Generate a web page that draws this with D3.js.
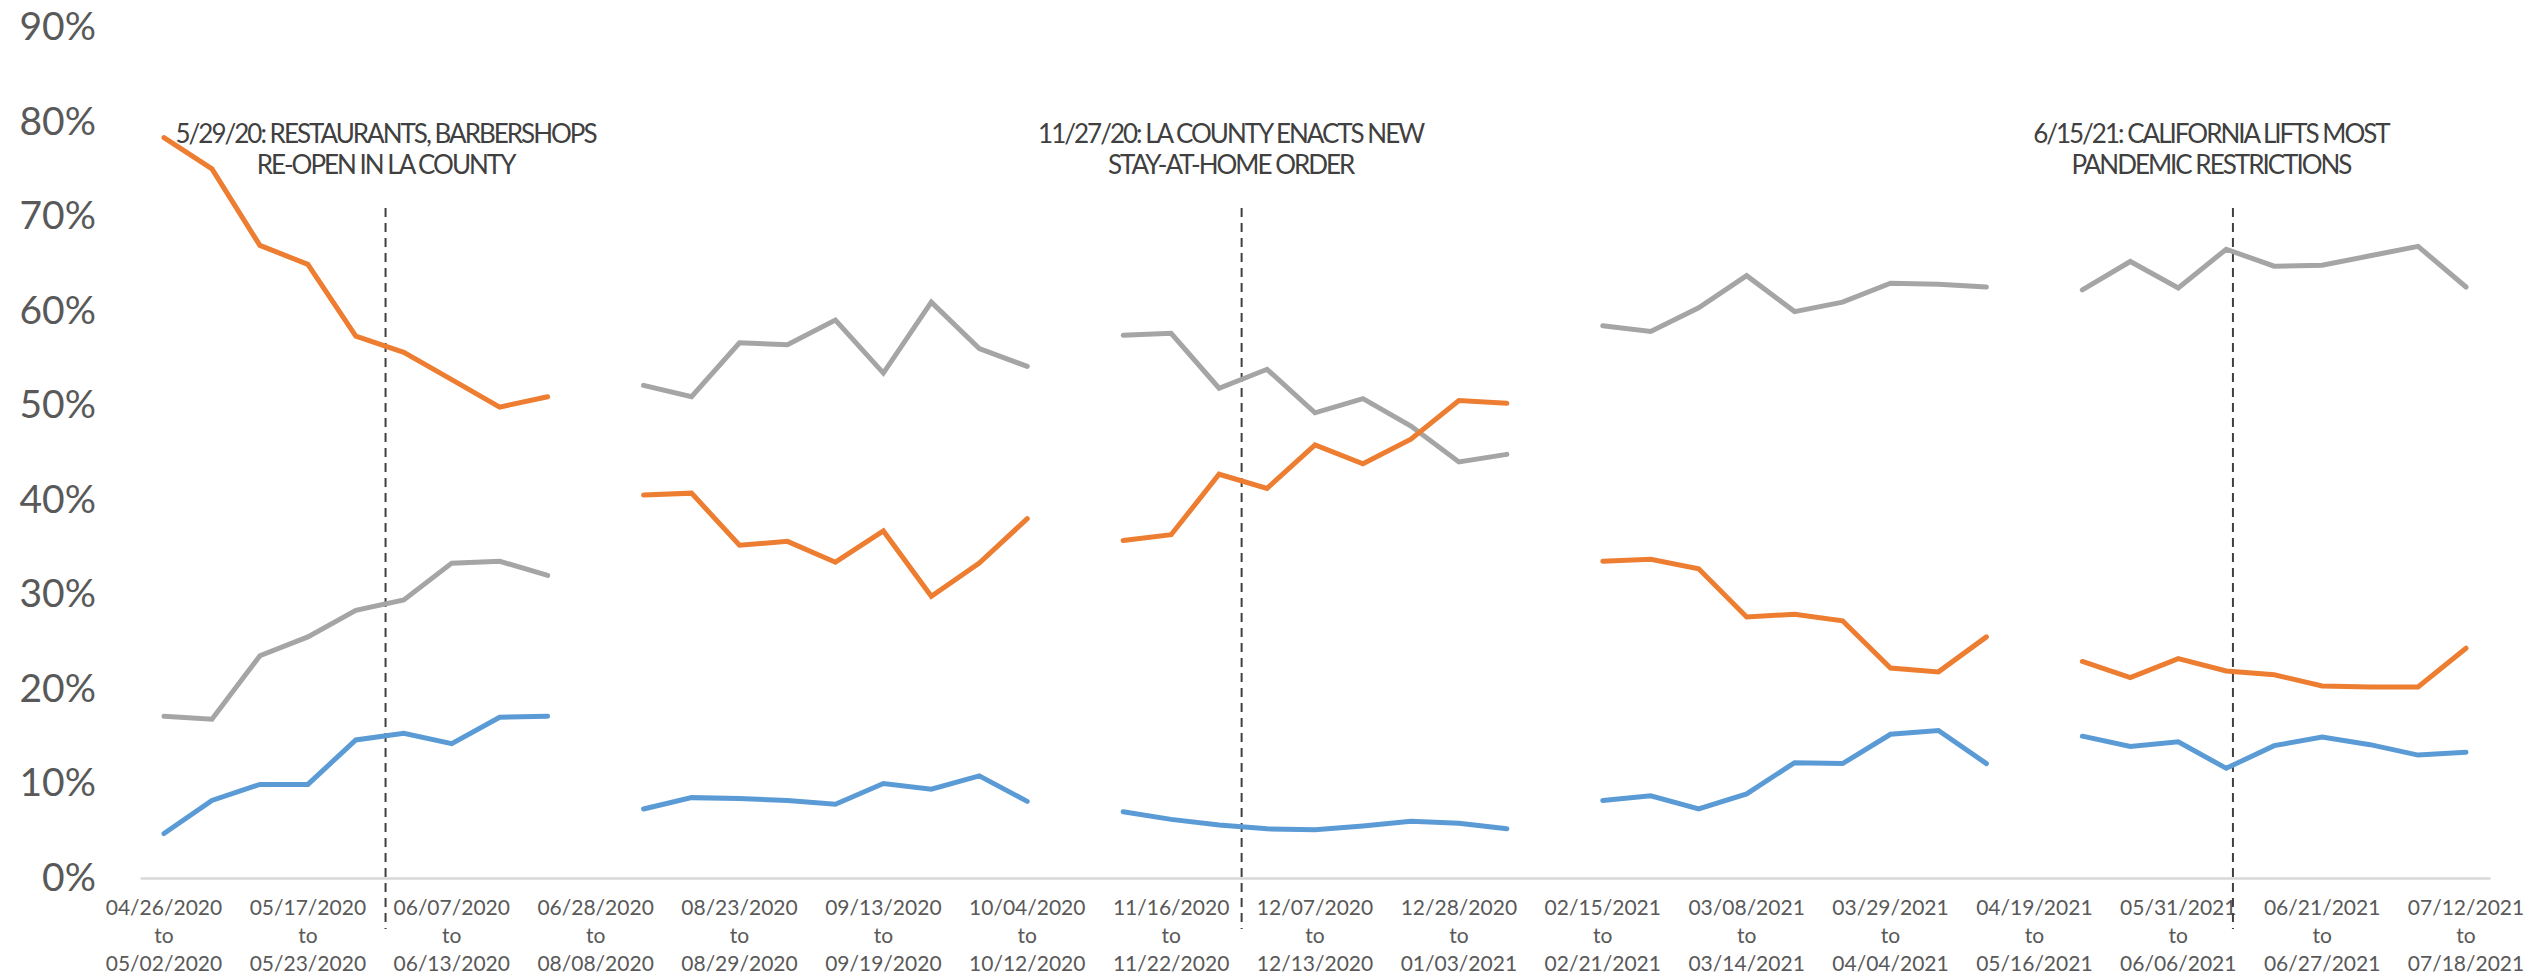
<!DOCTYPE html>
<html lang="en">
<head>
    <meta charset="UTF-8">
    <title>Weekly Shares</title>

    <script src="https://d3js.org/d3.v7.min.js"></script>

    <style>
        body {
            margin: 0;
            background: #ffffff;
        }

        svg {
            display: block;
            font-family: Lato, "Open Sans", sans-serif;
        }

    </style>

    <script>

        // week ranges (start / end); blank weeks between survey waves are single gap categories
        const WEEK_START = [
            "04/26/2020", "05/03/2020", "05/10/2020", "05/17/2020", "05/24/2020", "05/31/2020", "06/07/2020", "06/14/2020", "06/21/2020",
            "06/28/2020",
            "08/09/2020", "08/16/2020", "08/23/2020", "08/30/2020", "09/06/2020", "09/13/2020", "09/20/2020", "09/27/2020", "10/04/2020",
            "10/13/2020",
            "11/09/2020", "11/16/2020", "11/23/2020", "11/30/2020", "12/07/2020", "12/14/2020", "12/21/2020", "12/28/2020", "01/04/2021",
            "01/11/2021",
            "02/15/2021", "02/22/2021", "03/01/2021", "03/08/2021", "03/15/2021", "03/22/2021", "03/29/2021", "04/05/2021", "04/12/2021",
            "04/19/2021",
            "05/17/2021", "05/24/2021", "05/31/2021", "06/07/2021", "06/14/2021", "06/21/2021", "06/28/2021", "07/05/2021", "07/12/2021"
        ];

        const WEEK_END = [
            "05/02/2020", "05/09/2020", "05/16/2020", "05/23/2020", "05/30/2020", "06/06/2020", "06/13/2020", "06/20/2020", "06/27/2020",
            "08/08/2020",
            "08/15/2020", "08/22/2020", "08/29/2020", "09/05/2020", "09/12/2020", "09/19/2020", "09/26/2020", "10/03/2020", "10/12/2020",
            "11/08/2020",
            "11/15/2020", "11/22/2020", "11/29/2020", "12/06/2020", "12/13/2020", "12/20/2020", "12/27/2020", "01/03/2021", "01/10/2021",
            "02/14/2021",
            "02/21/2021", "02/28/2021", "03/07/2021", "03/14/2021", "03/21/2021", "03/28/2021", "04/04/2021", "04/11/2021", "04/18/2021",
            "05/16/2021",
            "05/23/2021", "05/30/2021", "06/06/2021", "06/13/2021", "06/20/2021", "06/27/2021", "07/04/2021", "07/11/2021", "07/18/2021"
        ];

        // percent values, null = no survey that week
        const ORANGE = [
            78.3, 75.0, 66.9, 64.9, 57.3, 55.6, 52.7, 49.8, 50.9,
            null,
            40.5, 40.7, 35.2, 35.6, 33.4, 36.7, 29.8, 33.3, 38.0,
            null,
            35.7, 36.3, 42.7, 41.2, 45.8, 43.8, 46.4, 50.5, 50.2,
            null,
            33.5, 33.7, 32.7, 27.6, 27.9, 27.2, 22.2, 21.8, 25.5,
            null,
            22.9, 21.2, 23.2, 21.9, 21.5, 20.3, 20.2, 20.2, 24.3
        ];

        const GRAY = [
            17.1, 16.8, 23.5, 25.5, 28.3, 29.4, 33.3, 33.5, 32.0,
            null,
            52.1, 50.9, 56.6, 56.4, 59.0, 53.4, 60.9, 56.0, 54.1,
            null,
            57.4, 57.6, 51.8, 53.8, 49.2, 50.7, 47.8, 44.0, 44.8,
            null,
            58.4, 57.8, 60.3, 63.7, 59.9, 60.9, 62.9, 62.8, 62.5,
            null,
            62.2, 65.2, 62.4, 66.5, 64.7, 64.8, 65.8, 66.8, 62.5
        ];

        const BLUE = [
            4.7, 8.2, 9.9, 9.9, 14.6, 15.3, 14.2, 17.0, 17.1,
            null,
            7.3, 8.5, 8.4, 8.2, 7.8, 10.0, 9.4, 10.8, 8.1,
            null,
            7.0, 6.2, 5.6, 5.2, 5.1, 5.5, 6.0, 5.8, 5.2,
            null,
            8.2, 8.7, 7.3, 8.9, 12.2, 12.1, 15.2, 15.6, 12.1,
            null,
            15.0, 13.9, 14.4, 11.6, 14.0, 14.9, 14.1, 13.0, 13.3
        ];

        const Y_TICKS = [0, 10, 20, 30, 40, 50, 60, 70, 80, 90];

        // events: position in week index units, two label lines
        const EVENT_POS = [4.62, 22.47, 43.14];
        const EVENT_LINE1 = ["5/29/20: RESTAURANTS, BARBERSHOPS", "11/27/20: LA COUNTY ENACTS NEW", "6/15/21: CALIFORNIA LIFTS MOST"];
        const EVENT_LINE2 = ["RE-OPEN IN LA COUNTY", "STAY-AT-HOME ORDER", "PANDEMIC RESTRICTIONS"];

        document.addEventListener("DOMContentLoaded", () => makeGraph());

        function makeGraph() {

            const width = 2525;
            const height = 979;

            const plot = {left: 140, right: 2490, top: 27, bottom: 878};

            // labels sit a little left of their marker line in the original
            const labelShift = [0, -11, -22];

            const svg = d3.select("svg")
                .attr("width", width)
                .attr("height", height);

            const idx = d3.range(WEEK_START.length);

            const x = d3.scaleBand().domain(idx).range([plot.left, plot.right]);
            const cx = (i) => x(i) + x.bandwidth() / 2;
            const xPos = d3.scaleLinear()
                .domain([0, idx.length - 1])
                .range([cx(0), cx(idx.length - 1)]);

            const y = d3.scaleLinear().domain([0, 90]).range([plot.bottom, plot.top]);

            // y axis labels
            const yAxis = svg.append("g")
                .attr("transform", "translate(96,0)")
                .call(d3.axisLeft(y).tickValues(Y_TICKS).tickSize(0).tickPadding(0)
                    .tickFormat((d) => d + "%"));
            yAxis.select(".domain").remove();
            yAxis.selectAll("text")
                .attr("font-family", "Lato")
                .attr("font-size", 39)
                .attr("fill", "#595959");

            // x axis
            const xAxis = svg.append("g")
                .attr("transform", "translate(0," + plot.bottom + ")")
                .call(d3.axisBottom(x).tickValues(idx.filter((i) => i % 3 === 0))
                    .tickSize(0).tickFormat(""));
            xAxis.select(".domain")
                .attr("stroke", "#d9d9d9")
                .attr("stroke-width", 2.5);
            xAxis.selectAll(".tick text").remove();

            const tickText = xAxis.selectAll(".tick")
                .append("text")
                .attr("font-family", "Lato")
                .attr("font-size", 21)
                .attr("fill", "#595959")
                .attr("text-anchor", "middle");

            tickText.each(function(i) {
                const lines = [WEEK_START[i], "to", WEEK_END[i]];
                d3.select(this).selectAll("tspan")
                    .data(lines)
                    .join("tspan")
                    .attr("x", 0)
                    .attr("y", (d, k) => 30 + k * 28)
                    .attr("dy", "0.35em")
                    .text((d) => d);
            });

            // event markers
            const ev = svg.append("g");
            EVENT_POS.forEach(function(p, k) {
                ev.append("line")
                    .attr("x1", xPos(p))
                    .attr("x2", xPos(p))
                    .attr("y1", 208)
                    .attr("y2", 929)
                    .attr("stroke", "#404040")
                    .attr("stroke-width", 2)
                    .attr("stroke-dasharray", "9,6");

                const lx = xPos(p) + labelShift[k];
                const t = ev.append("text")
                    .attr("text-anchor", "middle")
                    .attr("font-family", "Lato")
                    .attr("font-size", 26)
                    .attr("letter-spacing", "-2px")
                    .attr("fill", "#404040");
                t.append("tspan").attr("x", lx).attr("y", 143).text(EVENT_LINE1[k]);
                t.append("tspan").attr("x", lx).attr("y", 174).text(EVENT_LINE2[k]);
            });

            // series lines
            const line = d3.line()
                .defined((d) => d !== null)
                .x((d, i) => cx(i))
                .y((d) => y(d));

            const series = [
                {values: GRAY, color: "#a5a5a5"},
                {values: ORANGE, color: "#ed7d31"},
                {values: BLUE, color: "#5b9bd5"}
            ];

            svg.append("g").selectAll("path")
                .data(series)
                .join("path")
                .attr("fill", "none")
                .attr("stroke", (d) => d.color)
                .attr("stroke-width", 5)
                .attr("stroke-linecap", "round")
                .attr("stroke-linejoin", "miter")
                .attr("d", (d) => line(d.values));

        }


    </script>

</head>
<body>
        <svg id="graph"></svg>
</body>
</html>
